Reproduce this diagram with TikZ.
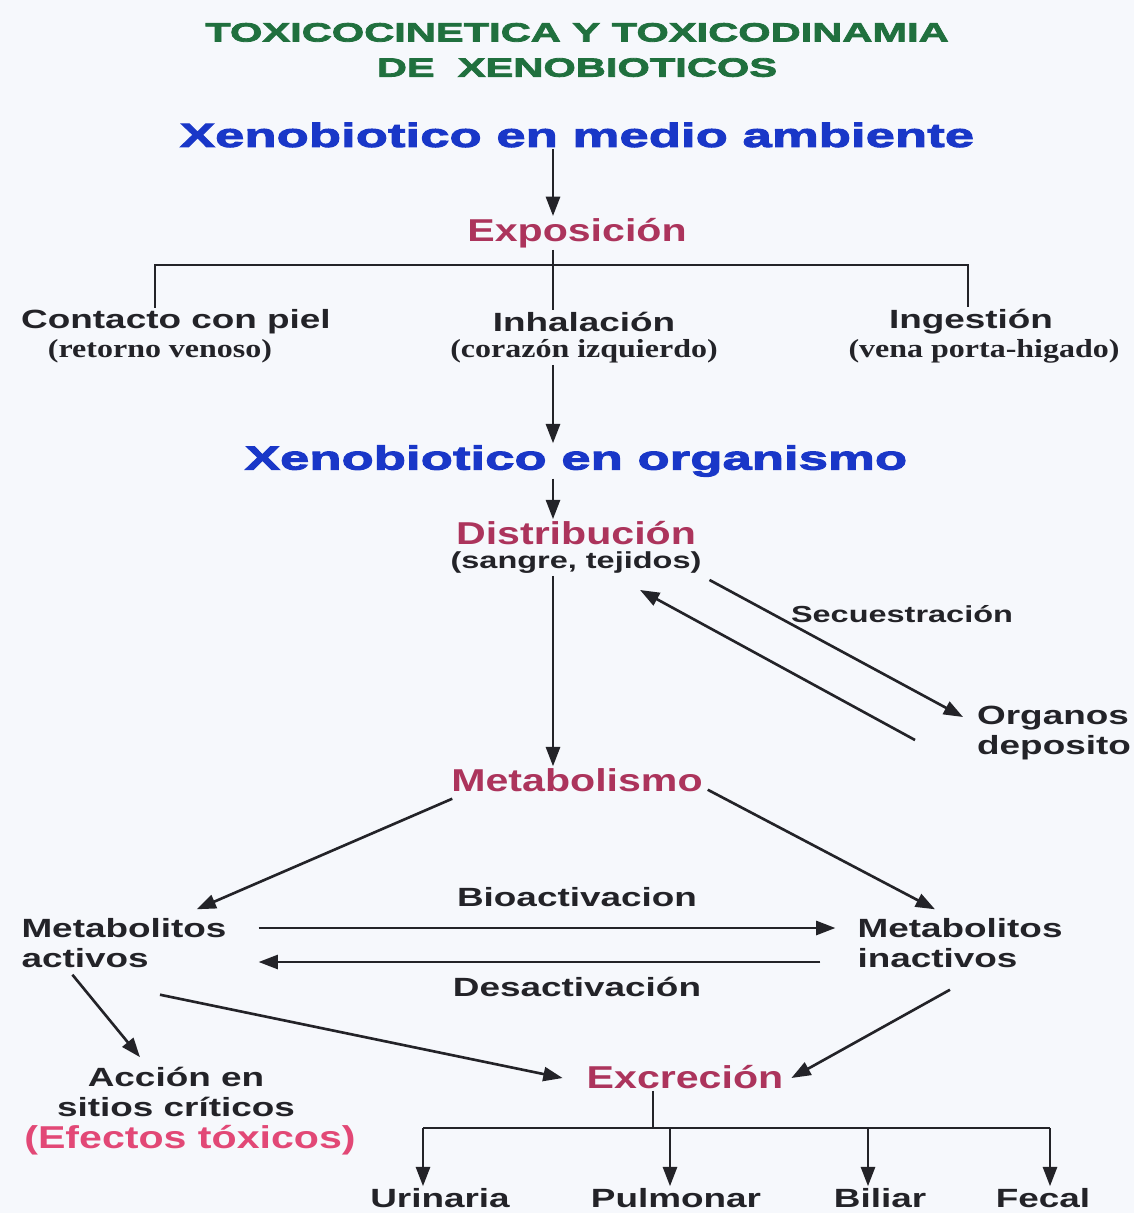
\documentclass[tikz,border=0pt]{standalone}
\usepackage{fontspec}
\setmainfont{Liberation Sans}
\newfontfamily\heavyfont{Liberation Sans}[UprightFont=* Bold, FakeStretch=1.58, FakeBold=3]
\newfontfamily\stagefont{Liberation Sans}[UprightFont=* Bold, FakeStretch=1.3]
\newfontfamily\labelfont{Liberation Sans}[UprightFont=* Bold, FakeStretch=1.4]
\newfontfamily\subfont{Liberation Serif}[UprightFont=* Bold, FakeStretch=1.23]
\usetikzlibrary{positioning}
\usetikzlibrary{arrows.meta}
\usetikzlibrary{calc}
\definecolor{titlegreen}{RGB}{32,112,62}
\definecolor{placeblue}{RGB}{25,55,200}
\definecolor{stagered}{RGB}{172,52,92}
\definecolor{effectpink}{RGB}{226,72,118}
\definecolor{inkgray}{RGB}{35,35,40}
\definecolor{paper}{RGB}{246,248,252}

\begin{document}
\begin{tikzpicture}[%
    x=0.02cm, y=-0.02cm,
    inner sep=1pt,
bigtitle/.style={align=center, text=titlegreen, font=\heavyfont\fontsize{15}{20}\selectfont},
place/.style={text=placeblue, font=\heavyfont\fontsize{19}{22}\selectfont},
stage/.style={align=center, text=stagered, font=\stagefont\fontsize{18}{20}\selectfont},
lbl/.style={align=center, text=inkgray, font=\labelfont\fontsize{15}{17}\selectfont},
lleft/.style={align=left, text=inkgray, font=\labelfont\fontsize{15}{17}\selectfont},
sub/.style={text=inkgray, font=\subfont\fontsize{14.8}{16}\selectfont},
small/.style={text=inkgray, font=\labelfont\fontsize{13.2}{16}\selectfont},
arr/.style={draw=inkgray, line width=1.5pt, -{Triangle[length=11pt,width=8pt]}},
bar/.style={draw=inkgray, line width=1.5pt}
]
% Paper
\fill[paper] (0,0) rectangle (1134,1213);
\useasboundingbox (0,0) rectangle (1134,1213);
\coordinate (spine) at (553,0);

% Titles
\node[bigtitle]   (title)    at (577,50)  {TOXICOCINETICA Y TOXICODINAMIA\\DE \ XENOBIOTICOS};
\node[place]      (medio)    at (577,135) {Xenobiotico en medio ambiente};

% Exposure
\node[stage]      (expo)     at (577,233) {Exposición};
\draw[arr] (medio.south -| spine) -- (expo.north -| spine);

% Routes
\node[lbl]        (piel)     at (176,322) {Contacto con piel};
\node[sub]        (pielsub)  at (160,351) {(retorno venoso)};
\node[lbl]        (inhal)    at (584,322) {Inhalación};
\node[sub]        (inhalsub) at (584,351) {(corazón izquierdo)};
\node[lbl]        (ingest)   at (971,322) {Ingestión};
\node[sub]        (ingestsub) at (984,351) {(vena porta-higado)};

% Route Lines
\coordinate (brL) at (155,265);
\coordinate (brR) at (968,265);
\draw[bar] (expo.south -| spine) -- (inhal.north -| spine);
\draw[bar] (brL |- piel.north) -- (brL) -- (brR) -- (brR |- ingest.north);

% Organism
\node[place]      (organ)    at (576,461) {Xenobiotico en organismo};
\draw[arr] (inhalsub.south -| spine) -- (organ.north -| spine);
\node[stage]      (distrib)  at (576,533) {Distribución};
\node[small]      (distribsub) at (576,563) {(sangre, tejidos)};
\draw[arr] (organ.south -| spine) -- (distrib.north -| spine);

% Deposit
\node[lleft]      (organos)  at (1054,733) {Organos\\deposito};
\node[small]      (secuest)  at (902,614) {Secuestración};
\draw[arr] ($(distribsub.south east)+(6,4)$) -- ($(organos.west)+(-12,-16)$);
\draw[arr] ($(organos.west)+(-60,7)$) -- ($(distribsub.south)+(64,14)$);

% Metabolism
\node[stage]      (metab)    at (577,780) {Metabolismo};
\draw[arr] (distribsub.south -| spine) -- (metab.north -| spine);
\node[lleft]      (activos)  at (124,943) {Metabolitos\\activos};
\node[lleft]      (inactivos) at (960,943) {Metabolitos\\inactivos};
\draw[arr] ($(metab.south west)+(3,5)$) -- ($(activos.north east)+(-32,-7)$);
\draw[arr] ($(metab.south east)+(3,-4)$) -- ($(inactivos.north)+(-25,-7)$);

\node[lbl]        (bioact)   at (577,897) {Bioactivacion};
\node[lbl]        (desact)   at (577,987) {Desactivación};
\draw[arr] ($(activos.east)+(30,-15)$) -- ($(inactivos.west)+(-20,-15)$);
\draw[arr] ($(inactivos.west)+(-35,19)$) -- ($(activos.east)+(30,19)$);

% Effects
\node[lbl]        (accion)   at (176,1092) {Acción en\\sitios críticos};
\node[stage, text=effectpink] (efectos) at (190,1140) {(Efectos tóxicos)};
\node[stage]      (excrec)   at (685,1077) {Excreción};
\draw[arr] ($(activos.south west)+(53,5)$) -- ($(accion.north)+(-36,-8)$);
\draw[arr] ($(activos.south)+(36,25)$) -- ($(excrec.west)+(-22,1)$);
\draw[arr] ($(inactivos.south)+(-10,20)$) -- ($(excrec.east)+(6,1)$);

% Excretion routes
\node[lbl]        (urin)     at (440,1198) {Urinaria};
\node[lbl]        (pulm)     at (676,1198) {Pulmonar};
\node[lbl]        (bili)     at (880,1198) {Biliar};
\node[lbl]        (fecal)    at (1043,1198) {Fecal};
\coordinate (eU) at (423,1128);
\coordinate (eP) at (670,1128);
\coordinate (eB) at (868,1128);
\coordinate (eF) at (1050,1128);
\coordinate (eS) at (653,1128);
\draw[bar] (excrec.south -| eS) -- (eS);
\draw[bar] (eU) -- (eF);
\draw[arr] (eU) -- (eU |- urin.north);
\draw[arr] (eP) -- (eP |- pulm.north);
\draw[arr] (eB) -- (eB |- bili.north);
\draw[arr] (eF) -- (eF |- fecal.north);

\end{tikzpicture}
\end{document}
